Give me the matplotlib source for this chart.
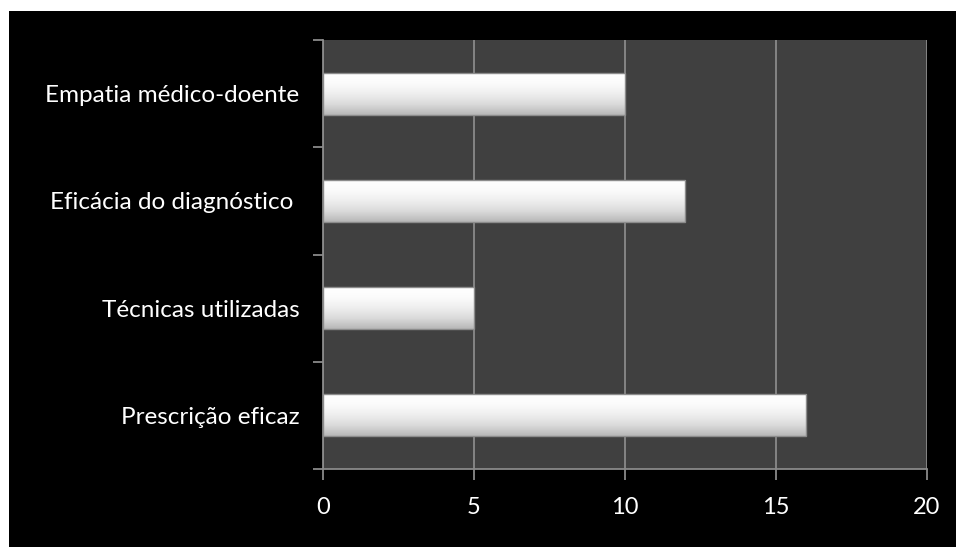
import matplotlib
matplotlib.use("Agg")
import matplotlib.pyplot as plt
import numpy as np
from matplotlib.patches import Rectangle
from matplotlib.colors import LinearSegmentedColormap

categories = ["Prescrição eficaz", "Técnicas utilizadas", "Eficácia do diagnóstico ", "Empatia médico-doente"]
values = [16, 5, 12, 10]
xticks = [0, 5, 10, 15, 20]

plt.rcParams['font.family'] = ['Lato', 'DejaVu Sans']

W, H = 956, 547
fig = plt.figure(figsize=(W / 100, H / 100), dpi=100, facecolor='black')
# white strips on left and top
fig.patches.append(Rectangle((0, 0), 9 / W, 1, transform=fig.transFigure,
                             facecolor='white', edgecolor='none', zorder=-10))
fig.patches.append(Rectangle((0, 1 - 11 / H), 1, 11 / H, transform=fig.transFigure,
                             facecolor='white', edgecolor='none', zorder=-10))

ax = fig.add_axes([323 / W, 1 - 469 / H, (927 - 323) / W, (469 - 40) / H])
ax.set_zorder(1)
ax.set_facecolor('#404040')

y = np.arange(len(categories))
bars = ax.barh(y, values, height=0.39, color='white', edgecolor='none', zorder=3)

# gradient fill for each bar (white top -> grey bottom)
grad = np.linspace(1, 0, 64).reshape(-1, 1)   # row 0 = bottom (origin lower)
cmap = LinearSegmentedColormap.from_list('bev', ['#ffffff', '#fbfbfb', '#eeeeee', '#dadada', '#b8b8b8'])
for b in bars:
    x0, y0, w, h = b.get_x(), b.get_y(), b.get_width(), b.get_height()
    im = ax.imshow(grad, extent=(x0, x0 + w, y0, y0 + h), cmap=cmap, aspect='auto',
                   zorder=4, interpolation='bilinear', origin='lower', vmin=0, vmax=1)
    im.set_clip_path(b)
    ax.add_patch(Rectangle((x0, y0), w, h, facecolor='none', edgecolor='#8c8c8c',
                           linewidth=1.0, zorder=5))

ax.set_xlim(0, 20)
ax.set_ylim(-0.5, len(categories) - 0.5)

ax.set_xticks(xticks)
ax.set_xticklabels([str(t) for t in xticks])
ax.set_yticks(y)
ax.set_yticklabels(categories)
ax.set_yticks(np.arange(-0.5, len(categories), 1), minor=True)

ax.grid(axis='x', color='#8a8a8a', linewidth=1.3, zorder=1)
ax.set_axisbelow(True)

for s in ['top', 'right']:
    ax.spines[s].set_visible(False)
for s in ['left', 'bottom']:
    ax.spines[s].set_color('#8a8a8a')
    ax.spines[s].set_linewidth(1.3)

ax.tick_params(axis='x', colors='#8a8a8a', labelcolor='white', labelsize=17, length=8,
               width=1.3, pad=12)
ax.tick_params(axis='y', which='major', length=0, labelcolor='white', labelsize=17.5, pad=17)
ax.tick_params(axis='y', which='minor', length=7, width=1.3, colors='#8a8a8a')

fig.savefig('out.png', dpi=100, facecolor='black')
